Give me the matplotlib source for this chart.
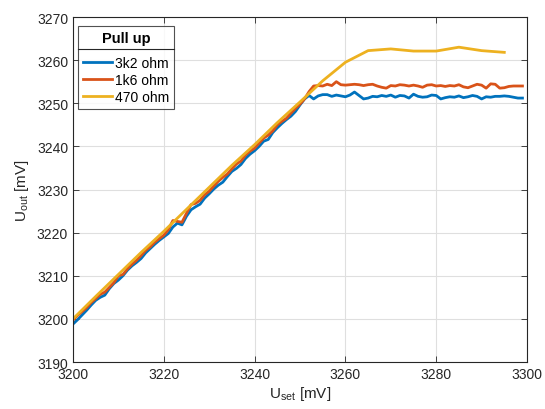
import matplotlib
matplotlib.use("Agg")
import matplotlib.pyplot as plt
import numpy as np
from matplotlib.lines import Line2D

plt.rcParams['font.family'] = ['Liberation Sans', 'DejaVu Sans']
plt.rcParams['mathtext.fontset'] = 'custom'
plt.rcParams['mathtext.rm'] = 'Liberation Sans'
plt.rcParams['mathtext.it'] = 'Liberation Sans:italic'

x_fine = list(range(3200, 3300))
blue = [3198.8, 3199.8, 3200.9, 3202.0, 3203.2, 3204.3, 3205.0, 3205.5, 3207.0, 3208.2,
        3209.0, 3210.0, 3211.3, 3212.3, 3213.1, 3214.0, 3215.3, 3216.3, 3217.3, 3218.2,
        3219.0, 3219.8, 3221.3, 3222.2, 3221.8, 3223.8, 3225.3, 3226.0, 3226.6, 3228.0,
        3229.0, 3230.1, 3231.0, 3231.7, 3233.0, 3234.2, 3234.9, 3235.8, 3237.2, 3238.2,
        3239.0, 3240.0, 3241.2, 3241.6, 3243.2, 3244.3, 3245.3, 3246.2, 3247.0, 3248.1,
        3249.6, 3251.0, 3251.8, 3251.0, 3251.7, 3252.0, 3252.0, 3251.6, 3251.9, 3251.7,
        3251.5, 3251.9, 3252.6, 3251.8, 3251.0, 3251.2, 3251.6, 3251.5, 3251.8, 3251.6,
        3251.9, 3251.4, 3251.8, 3251.7, 3251.2, 3252.1, 3251.6, 3251.4, 3251.5, 3251.9,
        3251.8, 3251.0, 3251.3, 3251.5, 3251.4, 3251.7, 3251.3, 3251.5, 3251.8, 3251.6,
        3251.0, 3251.5, 3251.4, 3251.6, 3251.6, 3251.7, 3251.6, 3251.4, 3251.2, 3251.2]
red = [3199.7, 3200.8, 3201.7, 3202.6, 3203.8, 3204.7, 3205.7, 3206.2, 3207.3, 3208.4,
       3210.0, 3210.3, 3211.6, 3212.7, 3213.6, 3214.7, 3215.9, 3216.7, 3217.8, 3218.6,
       3219.4, 3220.7, 3222.8, 3222.6, 3222.4, 3224.5, 3226.5, 3226.8, 3227.5, 3228.8,
       3229.6, 3230.8, 3231.9, 3232.8, 3233.6, 3234.8, 3235.9, 3236.6, 3238.0, 3238.9,
       3239.6, 3240.8, 3241.9, 3242.6, 3243.6, 3245.0, 3245.8, 3246.5, 3247.7, 3248.8,
       3249.8, 3251.0, 3252.7, 3254.0, 3254.1, 3254.0, 3254.4, 3254.1, 3255.0, 3254.3,
       3254.2, 3254.3, 3254.4, 3254.3, 3254.1, 3254.3, 3254.4, 3254.0, 3253.7, 3253.5,
       3254.1, 3254.0, 3254.3, 3254.2, 3254.0, 3254.2, 3254.0, 3253.7, 3254.2, 3254.3,
       3254.0, 3254.1, 3253.9, 3254.1, 3254.0, 3254.3, 3253.8, 3253.6, 3254.0, 3254.4,
       3254.2, 3253.5, 3254.5, 3254.4, 3253.5, 3253.6, 3253.9, 3254.0, 3254.0, 3254.0]
x_coarse = list(range(3200, 3300, 5))
yellow = [3200.0, 3205.2, 3210.3, 3215.4, 3220.3, 3225.4, 3230.5, 3235.6, 3240.4, 3245.5,
          3250.3, 3255.2, 3259.5, 3262.2, 3262.6, 3262.1, 3262.1, 3263.0, 3262.2, 3261.8]

labels = ['3k2 ohm', '1k6 ohm', '470 ohm']
colors = ['#0072BD', '#D95319', '#EDB120']
xticks = list(range(3200, 3301, 20))
yticks = list(range(3190, 3271, 10))

fig = plt.figure(figsize=(5.45, 4.10), dpi=100)
ax = fig.add_axes([73/545, 47/410, 454/545, 345/410])
ax.plot(x_fine, blue, color=colors[0], lw=2, label=labels[0])
ax.plot(x_fine, red, color=colors[1], lw=2, label=labels[1])
ax.plot(x_coarse, yellow, color=colors[2], lw=2, label=labels[2])

ax.set_xlim(3200, 3300)
ax.set_ylim(3190, 3270)
ax.set_xticks(xticks)
ax.set_yticks(yticks)
ax.grid(True, color='#dfdfdf', lw=0.8)
ax.set_axisbelow(True)
ax.tick_params(direction='in', length=4, width=0.6, colors='#262626', labelsize=10,
               top=True, right=True, labelcolor='#262626')
for s in ax.spines.values():
    s.set_color('#262626')
    s.set_linewidth(0.8)

ax.set_xlabel(r'U$_{\mathrm{set}}$ [mV]', fontsize=11, color='#262626', labelpad=2)
ax.set_ylabel(r'U$_{\mathrm{out}}$ [mV]', fontsize=11, color='#262626', labelpad=4)

leg = ax.legend(loc='upper left', bbox_to_anchor=(5/454, 1 - 9/345), borderaxespad=0,
                title='Pull up', fontsize=10, frameon=True,
                fancybox=False, edgecolor='#262626', handlelength=2.1, handletextpad=0.2,
                labelspacing=0.22, borderpad=0.35)
leg.get_title().set_fontweight('bold')
leg.get_title().set_fontsize(10.5)
leg.get_frame().set_linewidth(0.8)
leg.set_zorder(5)
leg._legend_box.sep = 8.0

fig.canvas.draw()
bb = leg.get_window_extent()
tb = leg.get_title().get_window_extent()
ysep = tb.y0 - 4
sep = Line2D([bb.x0, bb.x1], [ysep, ysep], transform=None, color='#262626', lw=0.8, zorder=6)
fig.add_artist(sep)

fig.savefig('out.png', dpi=100)
